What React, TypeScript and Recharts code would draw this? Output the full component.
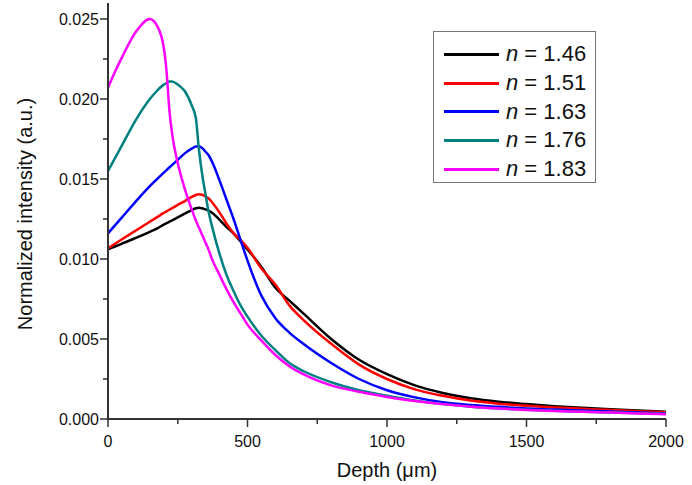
import React from 'react';
import { LineChart, Line, XAxis, YAxis, Legend, Label } from 'recharts';

const FONT = '"Liberation Sans", Arial, Helvetica, sans-serif';
const AXIS = '#333333';

// depth in micrometres
const DEPTH = [
  0, 25, 50, 100, 150, 175, 200, 210, 220, 230, 250, 275, 300, 315, 325, 340, 350, 360, 375,
  400, 425, 450, 475, 500, 550, 600, 650, 700, 800, 900, 1000, 1100, 1200, 1300, 1400, 1500,
  1600, 1700, 1800, 1900, 2000,
];

const N_146 = [
  0.0106, 0.01078, 0.01096, 0.01132, 0.0117, 0.0119, 0.01215, 0.01224, 0.01233, 0.01242, 0.0126,
  0.01283, 0.01306, 0.01317, 0.0132, 0.01316, 0.0131, 0.01302, 0.01286, 0.01245, 0.012, 0.0116,
  0.0111, 0.0106, 0.0095, 0.0082, 0.0074, 0.0066, 0.005, 0.0037, 0.0028, 0.0021, 0.00163, 0.0013,
  0.00108, 0.00093, 0.0008, 0.0007, 0.00061, 0.00053, 0.00046,
];

const N_151 = [
  0.01067, 0.01095, 0.01123, 0.01178, 0.01233, 0.0126, 0.01288, 0.01298, 0.01308, 0.01318, 0.01338,
  0.01362, 0.01388, 0.014, 0.01405, 0.014, 0.0139, 0.0138, 0.0135, 0.0129, 0.0122, 0.0116, 0.0112,
  0.0107, 0.0094, 0.0084, 0.0071, 0.0062, 0.0047, 0.0034, 0.0025, 0.00185, 0.00145, 0.00115,
  0.00096, 0.00083, 0.00072, 0.00064, 0.00056, 0.00049, 0.00042,
];

const N_163 = [
  0.0116, 0.0121, 0.0126, 0.0136, 0.01455, 0.01498, 0.0154, 0.01556, 0.01572, 0.01588, 0.0162,
  0.0166, 0.0169, 0.01703, 0.01704, 0.0169, 0.0167, 0.0165, 0.016, 0.0149, 0.0137, 0.0125, 0.0112,
  0.0099, 0.0077, 0.0063, 0.0054, 0.0047, 0.0035, 0.0025, 0.0018, 0.00135, 0.00105, 0.00088,
  0.00076, 0.00066, 0.00059, 0.00053, 0.00047, 0.00041, 0.00035,
];

const N_176 = [
  0.0155, 0.0163, 0.0171, 0.0187, 0.02, 0.0205, 0.0209, 0.021, 0.0211, 0.0211, 0.0209, 0.0205,
  0.0196, 0.0188, 0.017, 0.015, 0.014, 0.013, 0.0119, 0.0103, 0.009, 0.008, 0.0071, 0.0064, 0.0052,
  0.0043, 0.0035, 0.003, 0.0023, 0.0018, 0.00145, 0.00115, 0.00093, 0.00077, 0.00066, 0.00058,
  0.00051, 0.00046, 0.00041, 0.00036, 0.00031,
];

const N_183 = [
  0.0207, 0.0217, 0.0226, 0.0242, 0.025, 0.0246, 0.0232, 0.0217, 0.0193, 0.0178, 0.016, 0.0144,
  0.0131, 0.0124, 0.012, 0.0114, 0.011, 0.0106, 0.0099, 0.009, 0.0081, 0.0073, 0.0066, 0.0059,
  0.0049, 0.004, 0.0033, 0.0028, 0.0021, 0.0017, 0.00138, 0.00112, 0.00093, 0.00077, 0.00066,
  0.00057, 0.0005, 0.00045, 0.0004, 0.00035, 0.0003,
];

const SERIES = [
  { key: 'n146', label: '1.46', color: '#000000', values: N_146 },
  { key: 'n151', label: '1.51', color: '#ff0000', values: N_151 },
  { key: 'n163', label: '1.63', color: '#0000ff', values: N_163 },
  { key: 'n176', label: '1.76', color: '#008080', values: N_176 },
  { key: 'n183', label: '1.83', color: '#ff00ff', values: N_183 },
];

const X_TICKS = [0, 250, 500, 750, 1000, 1250, 1500, 1750, 2000];
const X_LABELED = [0, 500, 1000, 1500, 2000];
const Y_TICKS = [0, 0.0025, 0.005, 0.0075, 0.01, 0.0125, 0.015, 0.0175, 0.02, 0.0225, 0.025];
const Y_LABELED = [0, 0.005, 0.01, 0.015, 0.02, 0.025];

const data = DEPTH.map((d, i) => {
  const row: Record<string, number> = { depth: d };
  SERIES.forEach((s) => {
    row[s.key] = s.values[i];
  });
  return row;
});

const isIn = (list: number[], v: number) => list.some((t) => Math.abs(t - v) < 1e-9);

const YTick = (props: any) => {
  const { x, y, payload } = props;
  const major = isIn(Y_LABELED, payload.value);
  const ax = x + 9;
  return (
    <g>
      <line x1={ax} x2={ax - (major ? 8 : 5)} y1={y} y2={y} stroke={AXIS} strokeWidth={1.5} />
      {major && (
        <text x={x} y={y} dy="0.36em" textAnchor="end" fontSize={16} fontFamily={FONT} fill="#111">
          {payload.value.toFixed(3)}
        </text>
      )}
    </g>
  );
};

const XTick = (props: any) => {
  const { x, y, payload } = props;
  const major = isIn(X_LABELED, payload.value);
  const ay = y - 16;
  return (
    <g>
      <line x1={x} x2={x} y1={ay} y2={ay + (major ? 8 : 5)} stroke={AXIS} strokeWidth={1.5} />
      {major && (
        <text x={x} y={y} dy="0.72em" textAnchor="middle" fontSize={16} fontFamily={FONT} fill="#111">
          {payload.value}
        </text>
      )}
    </g>
  );
};

const renderLegend = () => (
  <div
    style={{
      width: 163,
      height: 152,
      boxSizing: 'border-box',
      border: '1px solid #777',
      background: '#fff',
      paddingTop: 8,
      fontFamily: FONT,
    }}
  >
    {SERIES.map((s) => (
      <div key={s.key} style={{ height: 28.7, display: 'flex', alignItems: 'center' }}>
        <div style={{ marginLeft: 10, width: 55, height: 3, background: s.color }} />
        <span style={{ marginLeft: 7, fontSize: 22, lineHeight: 1, color: '#111' }}>
          <i>n</i> = {s.label}
        </span>
      </div>
    ))}
  </div>
);

export default function App() {
  return (
    <div style={{ position: 'absolute', left: 0, top: 0, width: 692, height: 485, background: '#fff' }}>
      <LineChart width={692} height={485} data={data} margin={{ top: 3, right: 26, left: 0, bottom: 0 }}>
        <XAxis
          dataKey="depth"
          type="number"
          domain={[0, 2000]}
          ticks={X_TICKS}
          interval={0}
          height={66}
          axisLine={{ stroke: AXIS, strokeWidth: 2 }}
          tickLine={false}
          tickSize={8}
          tickMargin={8}
          tick={<XTick />}
        >
          <Label
            content={(p: any) => (
              <text
                x={p.viewBox.x + p.viewBox.width / 2}
                y={p.viewBox.y + 58}
                textAnchor="middle"
                fontSize={20}
                fontFamily={FONT}
                fill="#111"
              >
                Depth (μm)
              </text>
            )}
          />
        </XAxis>
        <YAxis
          type="number"
          domain={[0, 0.026]}
          ticks={Y_TICKS}
          interval={0}
          width={108}
          axisLine={{ stroke: AXIS, strokeWidth: 2 }}
          tickLine={false}
          tickSize={8}
          tickMargin={1}
          tick={<YTick />}
        >
          <Label
            content={(p: any) => {
              const cx = p.viewBox.x + 32;
              const cy = p.viewBox.y + p.viewBox.height / 2 + 3;
              return (
                <text
                  x={cx}
                  y={cy}
                  transform={`rotate(-90, ${cx}, ${cy})`}
                  textAnchor="middle"
                  fontSize={20}
                  fontFamily={FONT}
                  fill="#111"
                >
                  Normalized intensity (a.u.)
                </text>
              );
            }}
          />
        </YAxis>
        <Legend
          layout="vertical"
          align="center"
          verticalAlign="middle"
          wrapperStyle={{ left: 433, top: 31, width: 163 }}
          content={renderLegend}
        />
        {SERIES.map((s) => (
          <Line
            key={s.key}
            type="monotone"
            dataKey={s.key}
            stroke={s.color}
            strokeWidth={2.5}
            dot={false}
            isAnimationActive={false}
          />
        ))}
      </LineChart>
    </div>
  );
}
